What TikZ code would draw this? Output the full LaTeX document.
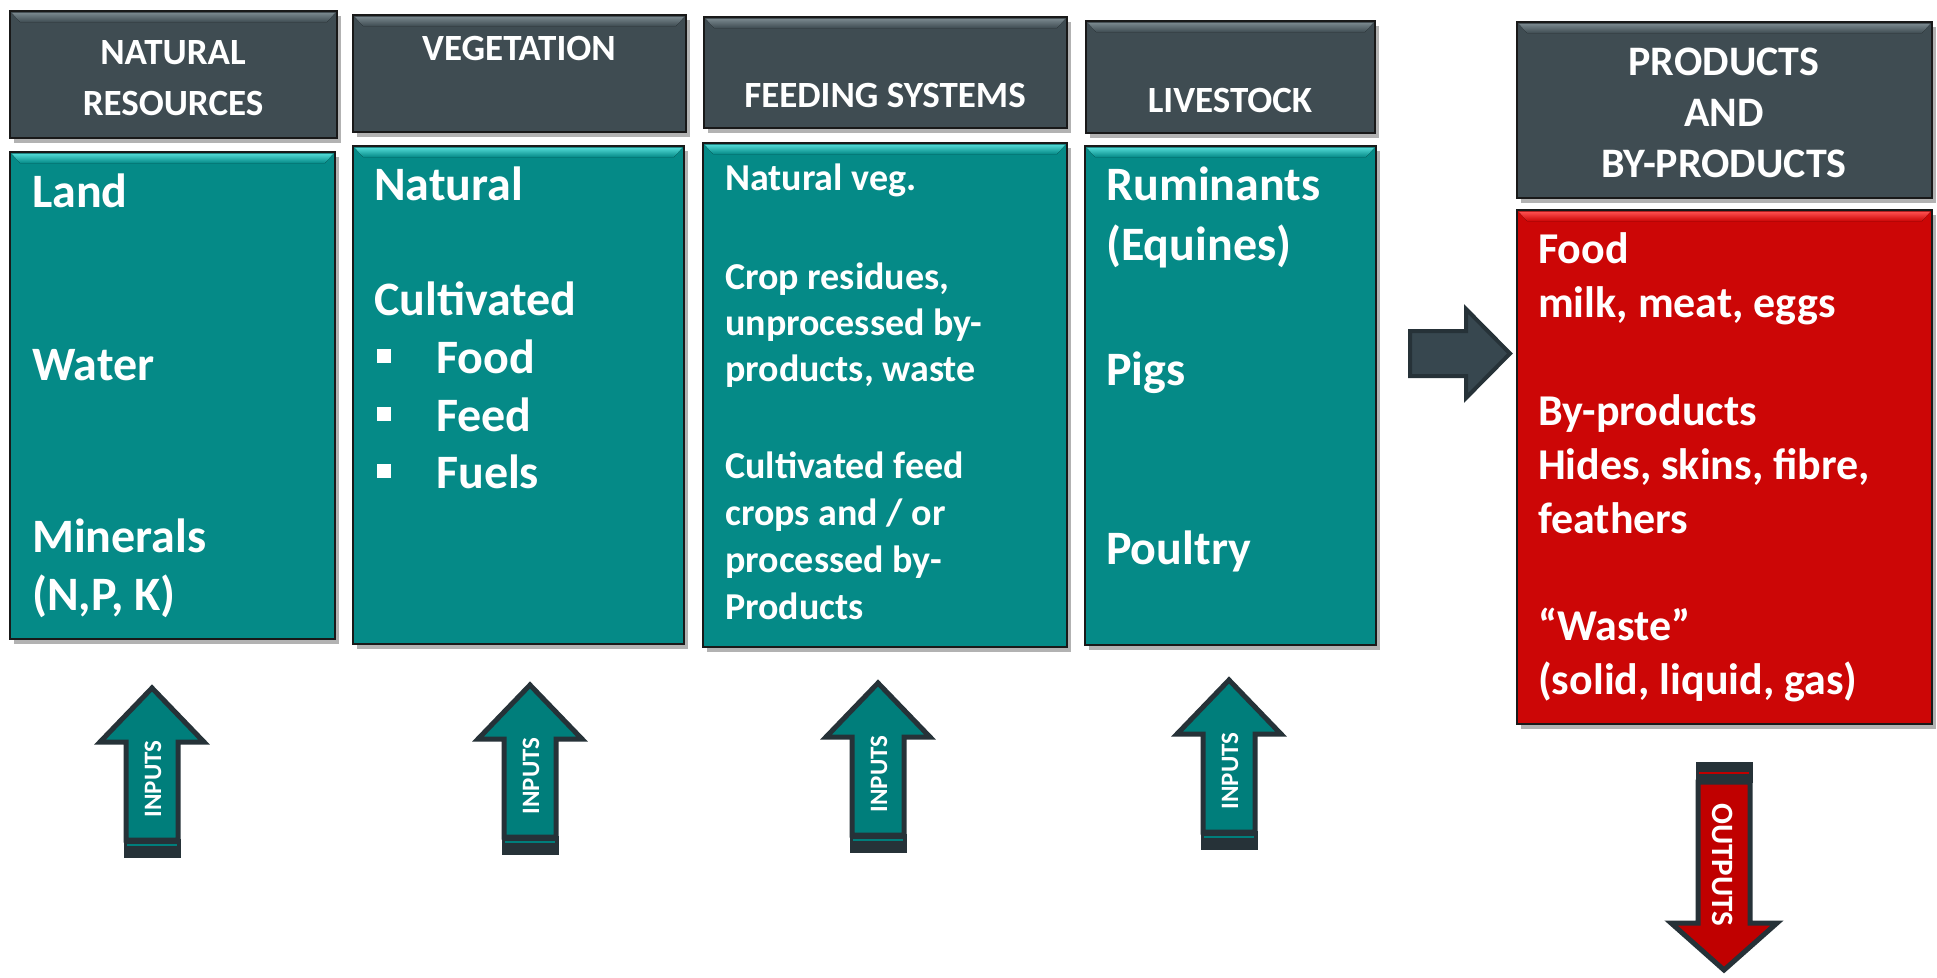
\documentclass[tikz,border=0pt]{standalone}
\usepackage{fontspec}
\setmainfont{Carlito}
\usetikzlibrary{shadows}
\definecolor{hdr}{HTML}{3F4C52}
\definecolor{hdrtop}{HTML}{7A888E}
\definecolor{tealbox}{HTML}{058A87}
\definecolor{tealtop}{HTML}{52DAD6}
\definecolor{redbox}{HTML}{CC0606}
\definecolor{redtop}{HTML}{FF5050}
\definecolor{arrteal}{HTML}{007E7B}
\definecolor{arrred}{HTML}{C00000}
\definecolor{arrdark}{HTML}{263238}
\definecolor{arrslate}{HTML}{37474F}
\newcommand{\bevelstrip}[5]{%
  \fill[top color=#4, bottom color=#5] ({#1+1.5},{#2+1.5}) -- ({#3-1.5},{#2+1.5}) -- ({#3-10},{#2+11}) -- ({#1+10},{#2+11}) -- cycle;}
\newcommand{\inarrow}[3]{%
  \draw[arrowbody, fill=arrteal] (#2,#3) -- ({#2+52},{#3+54}) -- ({#2+26},{#3+54}) -- ({#2+26},{#3+152}) -- ({#2-26},{#3+152}) -- ({#2-26},{#3+54}) -- ({#2-52},{#3+54}) -- cycle;
  \fill[arrdark] ({#2-28.5},{#3+151}) rectangle ({#2+28.5},{#3+170});
  \draw[arrteal, line width=1.2] ({#2-25},{#3+157}) -- ({#2+25},{#3+157});
  \node[arrtxt, font=\fontsize{25}{25}\selectfont\bfseries, rotate=90] (#1) at ({#2+1},{#3+91}) {INPUTS};}
\begin{document}
\begin{tikzpicture}[x=1pt,y=-1pt,
  box/.style={draw=black!90, line width=2.2pt, inner sep=0pt, outer sep=0pt, anchor=north west,
    drop shadow={shadow xshift=4pt, shadow yshift=-5pt, opacity=0.3, fill=black}},
  hdrbox/.style={box, fill=hdr},
  tealb/.style={box, fill=tealbox},
  redb/.style={box, fill=redbox},
  htxt/.style={font=\fontsize{37}{44}\selectfont\bfseries, text=white, anchor=base, inner sep=0pt},
  ptxt/.style={font=\fontsize{42}{48}\selectfont\bfseries, text=white, anchor=base, inner sep=0pt},
  ltxt/.style={font=\fontsize{48}{58}\selectfont\bfseries, text=white, anchor=base west, inner sep=0pt},
  mtxt/.style={font=\fontsize{38}{46}\selectfont\bfseries, text=white, anchor=base west, inner sep=0pt},
  rtxt/.style={font=\fontsize{44}{54}\selectfont\bfseries, text=white, anchor=base west, inner sep=0pt},
  bullet/.style={fill=white, minimum size=14pt, inner sep=0pt},
  arrowbody/.style={draw=arrdark, line width=5pt, line join=miter},
  arrtxt/.style={text=white, inner sep=0pt}]
\useasboundingbox[fill=white] (0,0) rectangle (1937,977);

% header boxes
\node[hdrbox, minimum width=327pt, minimum height=127pt] (h1) at (10,11) {};
\node[hdrbox, minimum width=333pt, minimum height=117pt] (h2) at (353,15) {};
\node[hdrbox, minimum width=363pt, minimum height=111pt] (h3) at (704,17) {};
\node[hdrbox, minimum width=289pt, minimum height=112pt] (h4) at (1086,21) {};
\node[hdrbox, minimum width=415pt, minimum height=176pt] (h5) at (1517,22) {};
\bevelstrip{10}{11}{337}{hdrtop}{hdr}
\bevelstrip{353}{15}{686}{hdrtop}{hdr}
\bevelstrip{704}{17}{1067}{hdrtop}{hdr}
\bevelstrip{1086}{21}{1375}{hdrtop}{hdr}
\bevelstrip{1517}{22}{1932}{hdrtop}{hdr}

% content boxes
\node[tealb, minimum width=325pt, minimum height=487pt] (b1) at (10,152) {};
\node[tealb, minimum width=331pt, minimum height=498pt] (b2) at (353,146) {};
\node[tealb, minimum width=364pt, minimum height=504pt] (b3) at (703,143) {};
\node[tealb, minimum width=291pt, minimum height=499pt] (b4) at (1085,146) {};
\node[redb, minimum width=415pt, minimum height=514pt] (b5) at (1517,210) {};
\bevelstrip{10}{152}{335}{tealtop}{tealbox}
\bevelstrip{353}{146}{684}{tealtop}{tealbox}
\bevelstrip{703}{143}{1067}{tealtop}{tealbox}
\bevelstrip{1085}{146}{1376}{tealtop}{tealbox}
\bevelstrip{1517}{210}{1932}{redtop}{redbox}

% header texts
\node[htxt] (t11) at (173,64) {NATURAL};
\node[htxt] (t12) at (173,115) {RESOURCES};
\node[htxt] (t2) at (519,60) {VEGETATION};
\node[htxt] (t3) at (885,107) {FEEDING SYSTEMS};
\node[htxt] (t4) at (1230,112) {LIVESTOCK};
\node[ptxt] (t51) at (1724,75) {PRODUCTS};
\node[ptxt] (t52) at (1724,126) {AND};
\node[ptxt] (t53) at (1724,177) {BY-PRODUCTS};

% box 1
\node[ltxt] (c11) at (32,207) {Land};
\node[ltxt] (c12) at (32,380) {Water};
\node[ltxt] (c13) at (32,552) {Minerals};
\node[ltxt] (c14) at (32,610) {(N,P, K)};

% box 2
\node[ltxt] (c21) at (374,200) {Natural};
\node[ltxt] (c22) at (374,315) {Cultivated};
\node[ltxt] (c23) at (436,373) {Food};
\node[ltxt] (c24) at (436,431) {Feed};
\node[ltxt] (c25) at (436,488) {Fuels};
\node[bullet] (u1) at (384,356) {};
\node[bullet] (u2) at (384,414) {};
\node[bullet] (u3) at (384,471) {};

% box 3
\node[mtxt] (c31) at (725,190) {Natural veg.};
\node[mtxt] (c32) at (725,289) {Crop residues,};
\node[mtxt] (c33) at (725,335) {unprocessed by-};
\node[mtxt] (c34) at (725,381) {products, waste};
\node[mtxt] (c35) at (725,478) {Cultivated feed};
\node[mtxt] (c36) at (725,525) {crops and / or};
\node[mtxt] (c37) at (725,572) {processed by-};
\node[mtxt] (c38) at (725,619) {Products};

% box 4
\node[ltxt] (c41) at (1106,200) {Ruminants};
\node[ltxt] (c42) at (1106,260) {(Equines)};
\node[ltxt] (c43) at (1106,385) {Pigs};
\node[ltxt] (c44) at (1106,564) {Poultry};

% box 5
\node[rtxt] (c51) at (1538,263) {Food};
\node[rtxt] (c52) at (1538,317) {milk, meat, eggs};
\node[rtxt] (c53) at (1538,425) {By-products};
\node[rtxt] (c54) at (1538,479) {Hides, skins, fibre,};
\node[rtxt] (c55) at (1538,533) {feathers};
\node[rtxt] (c56) at (1538,640) {“Waste”};
\node[rtxt] (c57) at (1538,694) {(solid, liquid, gas)};

% right arrow
\draw[arrowbody, line width=4pt, fill=arrslate] (1410,331) -- (1466,331) -- (1466,309) -- (1510,353.5) -- (1466,398) -- (1466,376) -- (1410,376) -- cycle;

% input arrows
\inarrow{in1}{152}{688}
\inarrow{in2}{530}{685}
\inarrow{in3}{878}{683}
\inarrow{in4}{1229}{680}

% output arrow
\fill[arrdark] (1695.5,762) rectangle (1752.5,783);
\draw[arrred, line width=1.2] (1699,773) -- (1749,773);
\draw[arrowbody, fill=arrred] (1698,782) -- (1750,782) -- (1750,923) -- (1777,923) -- (1724,970) -- (1671,923) -- (1698,923) -- cycle;
\node[arrtxt, font=\fontsize{31}{31}\selectfont\bfseries, rotate=-90] (out) at (1723,865) {OUTPUTS};
\end{tikzpicture}
\end{document}
